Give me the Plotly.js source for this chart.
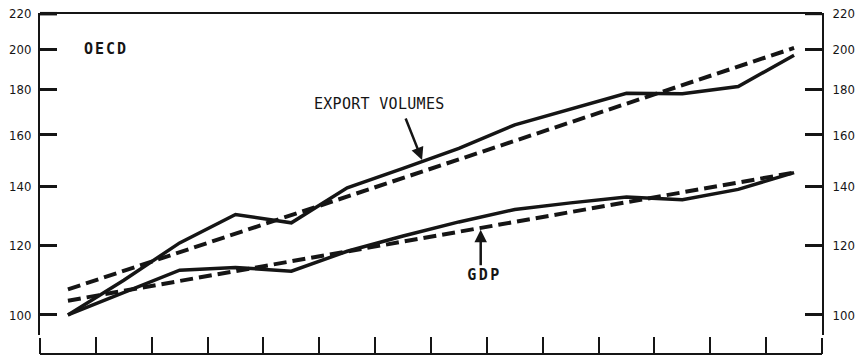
<!DOCTYPE html>
<html>
<head>
<meta charset="utf-8">
<script src="https://cdn.plot.ly/plotly-3.0.1.min.js"></script>
<style>
  html, body { margin: 0; padding: 0; background: #ffffff; }
  #chart { width: 864px; height: 358px; }
</style>
</head>
<body>
<div id="chart"></div>
<script>
// OECD: export volumes and GDP (index), actual values and trend lines, log scale
const years = [1960, 1961, 1962, 1963, 1964, 1965, 1966, 1967, 1968, 1969, 1970, 1971, 1972, 1973];

const exportVolumes = [100, 109.5, 120.7, 130, 127.2, 139.4, 146.6, 154.5, 164.3, 171.3, 178.4, 178.2, 181.6, 197];
const exportTrend   = [106.9, 112.2, 117.8, 123.6, 129.8, 136.2, 143.0, 150.1, 157.6, 165.4, 173.6, 182.3, 191.3, 200.8];

const gdp      = [100, 106.1, 112.4, 113.2, 112.1, 118.1, 122.9, 127.5, 131.7, 134, 136.1, 135.1, 138.8, 145];
const gdpTrend = [103.8, 106.5, 109.3, 112.1, 115.0, 118.0, 121.1, 124.3, 127.5, 130.8, 134.2, 137.7, 141.3, 145.0];

const yTicks = [100, 120, 140, 160, 180, 200, 220];
const yLabels = ['100', '120', '140', '160', '180', '200', '220'];
const yearEdges = [1959.5, 1960.5, 1961.5, 1962.5, 1963.5, 1964.5, 1965.5, 1966.5,
                   1967.5, 1968.5, 1969.5, 1970.5, 1971.5, 1972.5, 1973.5];

const ink = '#151515';
const labelFont = { family: 'DejaVu Sans Mono, monospace', size: 15, color: ink, weight: 'bold' };
const yRange = [Math.log10(94.9), Math.log10(220)];

const traces = [
  { x: years, y: exportTrend, mode: 'lines', line: { color: ink, width: 4, dash: '13px,6px' }, hoverinfo: 'skip' },
  { x: years, y: gdpTrend,    mode: 'lines', line: { color: ink, width: 4, dash: '13px,6px' }, hoverinfo: 'skip' },
  { x: years, y: exportVolumes, mode: 'lines', line: { color: ink, width: 3.5 }, hoverinfo: 'skip' },
  { x: years, y: gdp,           mode: 'lines', line: { color: ink, width: 3.5 }, hoverinfo: 'skip' },
  { x: years, y: gdp, yaxis: 'y2', mode: 'lines', line: { width: 0 }, opacity: 0, hoverinfo: 'skip' }
];

const yCommon = {
  type: 'log',
  range: yRange,
  domain: [0.0557, 1],
  tickvals: yTicks,
  ticktext: yLabels,
  ticks: 'inside',
  ticklen: 17,
  tickwidth: 3,
  tickcolor: ink,
  showline: true,
  linewidth: 2,
  linecolor: ink,
  showgrid: false,
  zeroline: false,
  fixedrange: true,
  tickfont: { family: 'DejaVu Sans Condensed, Liberation Sans Narrow, DejaVu Sans, sans-serif', size: 13, color: ink }
};

// Edge ticks that sit on the frame corners (the axes skip ticks exactly at their ends)
const tickH = 16 / 341;
const tickW = 17 / 782;
const frameShapes = [
  { type: 'line', xref: 'paper', yref: 'paper', x0: 0, x1: 1, y0: 1, y1: 1, line: { color: ink, width: 2 } },
  { type: 'line', xref: 'paper', yref: 'paper', x0: 0, x1: 0, y0: 0, y1: tickH, line: { color: ink, width: 2 } },
  { type: 'line', xref: 'paper', yref: 'paper', x0: 1, x1: 1, y0: 0, y1: tickH, line: { color: ink, width: 2 } },
  { type: 'line', xref: 'paper', yref: 'paper', x0: 0, x1: tickW, y0: 0.998, y1: 0.998, line: { color: ink, width: 3.5 } },
  { type: 'line', xref: 'paper', yref: 'paper', x0: 1 - tickW, x1: 1, y0: 0.998, y1: 0.998, line: { color: ink, width: 3 } }
];

const layout = {
  width: 864,
  height: 358,
  margin: { l: 40, r: 42, t: 13, b: 4 },
  paper_bgcolor: '#ffffff',
  plot_bgcolor: '#ffffff',
  showlegend: false,
  xaxis: {
    range: [1959.5, 1973.5],
    anchor: 'free',
    position: 0,
    tickvals: yearEdges,
    showticklabels: false,
    ticks: 'inside',
    ticklen: 16,
    tickwidth: 2,
    tickcolor: ink,
    showline: true,
    linewidth: 2,
    linecolor: ink,
    showgrid: false,
    zeroline: false,
    fixedrange: true
  },
  yaxis: Object.assign({}, yCommon, { anchor: 'x', side: 'left', ticklabelstandoff: 4 }),
  yaxis2: Object.assign({}, yCommon, { anchor: 'x', side: 'right', overlaying: 'y', ticklabelstandoff: 6 }),
  shapes: frameShapes,
  annotations: [
    { x: 1960.68, y: Math.log10(200.5), xref: 'x', yref: 'y', text: 'OECD', showarrow: false,
      font: labelFont },
    { x: 1965.57, y: Math.log10(173.6), xref: 'x', yref: 'y', text: 'EXPORT VOLUMES', showarrow: false,
      font: Object.assign({}, labelFont, { weight: 'normal' }) },
    { x: 1967.45, y: Math.log10(111.0), xref: 'x', yref: 'y', text: 'GDP', showarrow: false,
      font: labelFont },
    { x: 1966.34, y: Math.log10(149.9), xref: 'x', yref: 'y', text: '', showarrow: true,
      ax: -17, ay: -43, arrowhead: 2, arrowsize: 1, arrowwidth: 2.5, arrowcolor: ink, standoff: 0 },
    { x: 1967.39, y: Math.log10(124.9), xref: 'x', yref: 'y', text: '', showarrow: true,
      ax: 0, ay: 37, arrowhead: 2, arrowsize: 1, arrowwidth: 2.5, arrowcolor: ink, standoff: 0 }
  ]
};

Plotly.newPlot('chart', traces, layout, { staticPlot: true, displayModeBar: false }).then(function () {
  // Widen the letter spacing of the short labels
  document.querySelectorAll('.annotation-text').forEach(function (t) {
    if (t.textContent === 'OECD') t.style.letterSpacing = '2px';
    if (t.textContent === 'GDP') t.style.letterSpacing = '2.5px';
    if (t.textContent === 'EXPORT VOLUMES') t.style.letterSpacing = '0.3px';
  });
});
</script>
</body>
</html>
